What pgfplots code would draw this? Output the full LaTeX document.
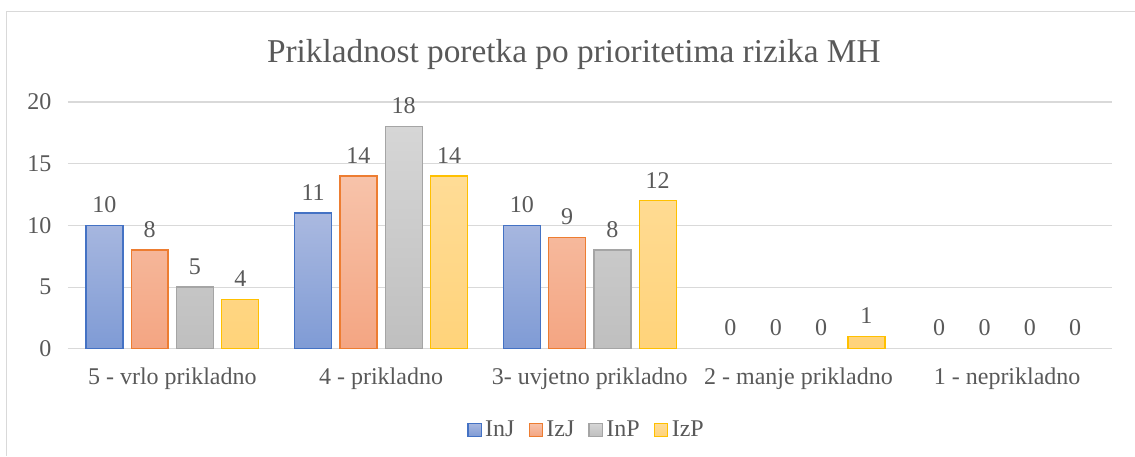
\documentclass[border=0pt]{standalone}
\usepackage{pgfplots}
\pgfplotsset{compat=1.18}
\usepackage{fontspec}
\setmainfont{Liberation Serif}
\definecolor{txt}{HTML}{595959}
\definecolor{gridc}{HTML}{D9D9D9}
\definecolor{injline}{HTML}{4472C4}
\definecolor{injtop}{HTML}{AAB9E0}
\definecolor{injbot}{HTML}{7F9BD5}
\definecolor{izjline}{HTML}{ED7D31}
\definecolor{izjtop}{HTML}{F7C3AA}
\definecolor{izjbot}{HTML}{F4A582}
\definecolor{inpline}{HTML}{A5A5A5}
\definecolor{inptop}{HTML}{D6D6D6}
\definecolor{inpbot}{HTML}{BFBFBF}
\definecolor{izpline}{HTML}{FFC000}
\definecolor{izptop}{HTML}{FFDC96}
\definecolor{izpbot}{HTML}{FFD37A}

\begin{document}
\begin{tikzpicture}
\path (0,0) rectangle (851.25pt,342pt);
\draw[gridc, line width=0.75pt] (5.25pt,0) -- (5.25pt,333pt) -- (851.25pt,333pt);
\node[txt, font=\fontsize{25}{30}\selectfont, anchor=base] at (430.5pt,294.75pt)
  {Prikladnost poretka po prioritetima rizika MH};
\begin{axis}[
    at={(51pt,80.25pt)}, anchor=south west,
    scale only axis, width=783pt, height=185.25pt,
    xmin=-0.5, xmax=4.5, ymin=0, ymax=20,
    ytick={0,5,10,15,20},
    xtick={0,1,2,3,4},
    xticklabels={5 - vrlo prikladno, 4 - prikladno, 3- uvjetno prikladno, 2 - manje prikladno, 1 - neprikladno},
    /pgf/number format/assume math mode=true,
    axis line style={draw=none},
    major tick length=0pt,
    ymajorgrids, grid style={gridc, line width=0.9pt},
    tick label style={font=\fontsize{18}{21}\selectfont, text=txt},
    yticklabel style={xshift=-9pt},
    xticklabel style={yshift=-11pt},
    bar width=27.75pt,
    legend style={at={(0.4975,-0.328)}, anchor=center, draw=none,
        legend columns=4, font=\fontsize{18}{21}\selectfont, text=txt,
        column sep=0pt, nodes={inner xsep=2.5pt},
        /tikz/every even column/.append style={column sep=8pt}},
    legend image code/.code={\draw[#1] (0pt,-5pt) rectangle (10pt,5pt);},
    nodes near coords style={font=\fontsize{18}{21}\selectfont, text=txt, yshift=6pt},
]
\addplot[ybar, bar shift=0pt, x filter/.expression={x-0.3257}, draw=injline, line width=1pt,
    top color=injtop, bottom color=injbot, y filter/.expression={y==0 ? nan : y}]
    coordinates {(0,10)(1,11)(2,10)(3,0)(4,0)};
\addlegendentry{InJ}
\addplot[ybar, bar shift=0pt, x filter/.expression={x-0.1086}, draw=izjline, line width=1pt,
    top color=izjtop, bottom color=izjbot, y filter/.expression={y==0 ? nan : y}]
    coordinates {(0,8)(1,14)(2,9)(3,0)(4,0)};
\addlegendentry{IzJ}
\addplot[ybar, bar shift=0pt, x filter/.expression={x+0.1086}, draw=inpline, line width=1pt,
    top color=inptop, bottom color=inpbot, y filter/.expression={y==0 ? nan : y}]
    coordinates {(0,5)(1,18)(2,8)(3,0)(4,0)};
\addlegendentry{InP}
\addplot[ybar, bar shift=0pt, x filter/.expression={x+0.3257}, draw=izpline, line width=1pt,
    top color=izptop, bottom color=izpbot, y filter/.expression={y==0 ? nan : y}]
    coordinates {(0,4)(1,14)(2,12)(3,1)(4,0)};
\addlegendentry{IzP}
% value labels, zeros included
\addplot[draw=none, mark=none, nodes near coords, forget plot, x filter/.expression={x-0.3257}]
    coordinates {(0,10)(1,11)(2,10)(3,0)(4,0)};
\addplot[draw=none, mark=none, nodes near coords, forget plot, x filter/.expression={x-0.1086}]
    coordinates {(0,8)(1,14)(2,9)(3,0)(4,0)};
\addplot[draw=none, mark=none, nodes near coords, forget plot, x filter/.expression={x+0.1086}]
    coordinates {(0,5)(1,18)(2,8)(3,0)(4,0)};
\addplot[draw=none, mark=none, nodes near coords, forget plot, x filter/.expression={x+0.3257}]
    coordinates {(0,4)(1,14)(2,12)(3,1)(4,0)};
\end{axis}
\end{tikzpicture}
\end{document}
